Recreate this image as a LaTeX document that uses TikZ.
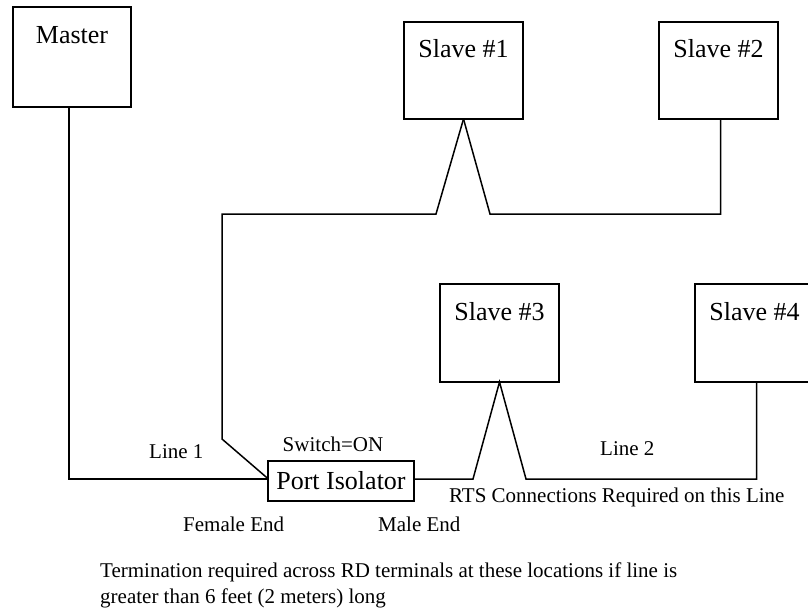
\documentclass[tikz,border=0pt]{standalone}
\usepackage{fontspec}
\setmainfont{Liberation Serif}
\usetikzlibrary{calc}
\begin{document}
\begin{tikzpicture}[x=1pt,y=-1pt,
  unitbox/.style={draw=black,line width=1.5pt,minimum width=119pt,minimum height=97pt,inner sep=0pt,outer sep=0pt},
  boxlabel/.style={font=\fontsize{26}{30}\selectfont,anchor=base,inner sep=0pt},
  lbl/.style={font=\fontsize{21}{25}\selectfont,inner sep=0pt},
  wire/.style={draw=black,line width=1.5pt,line join=miter}]
\useasboundingbox (0,0) rectangle (808,610);
% boxes
\node[unitbox,minimum width=118pt,minimum height=100pt] (m) at (72,57) {};
\node[boxlabel] (mt) at (72,44) {Master};
\node[unitbox] (s1) at (463.5,70.5) {};
\node[boxlabel] (s1t) at (463.5,58) {Slave \#1};
\node[unitbox] (s2) at (718.5,70.5) {};
\node[boxlabel] (s2t) at (718.5,58) {Slave \#2};
\node[unitbox,minimum height=98pt] (s3) at (499.5,333) {};
\node[boxlabel] (s3t) at (499.5,320) {Slave \#3};
\node[unitbox,minimum height=98pt] (s4) at (754.5,333) {};
\node[boxlabel] (s4t) at (754.5,320) {Slave \#4};
\node[draw=black,line width=1.5pt,minimum width=146pt,minimum height=40pt,inner sep=0pt,font=\fontsize{26}{30}\selectfont] (pi) at (341,481) {Port Isolator};
% coordinates
\coordinate (v1l) at (436,214);
\coordinate (v1r) at (490,214);
\coordinate (c1) at (222,214);
\coordinate (c2) at (222,439);
\coordinate (v3l) at (473,479);
\coordinate (v3r) at (526,479);
% wires
\draw[wire] ($(m.south)+(-3,0)$) |- ($(pi.west)+(0,-2)$);
\draw[wire] (s1.south) -- (v1l) -- (c1) -- (c2) -- ($(pi.west)+(0,-3)$);
\draw[wire] (s1.south) -- (v1r) -| ($(s2.south)+(2,0)$);
\draw[wire] ($(pi.east)+(0,-2)$) -- (v3l) -- (s3.south) -- (v3r) -| ($(s4.south)+(2,0)$);
% labels
\node[lbl,anchor=base west] (l1) at (149,458) {Line 1};
\node[lbl,anchor=base] (sw) at (333,451) {Switch=ON};
\node[lbl,anchor=base west] (l2) at (600,455) {Line 2};
\node[lbl,anchor=base west] (rts) at (449,502) {RTS Connections Required on this Line};
\node[lbl,anchor=base west] (fe) at (183,531) {Female End};
\node[lbl,anchor=base west] (me) at (378,531) {Male End};
\node[lbl,anchor=base west] (n1) at (100,577) {Termination required across RD terminals at these locations if line is};
\node[lbl,anchor=base west] (n2) at (100,603) {greater than 6 feet (2 meters) long};
\end{tikzpicture}
\end{document}
